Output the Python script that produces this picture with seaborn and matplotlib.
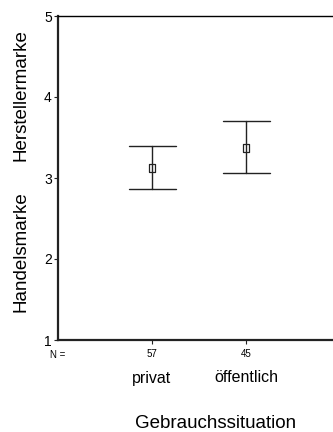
import numpy as np
import pandas as pd
import matplotlib
matplotlib.use("Agg")
import matplotlib.pyplot as plt
import matplotlib.transforms as mtransforms
import seaborn as sns

# Mean rating per usage situation with its 95% confidence interval
situations = ["privat", "öffentlich"]
n_counts = [57, 45]
means = [3.12, 3.37]
ci_low = [2.86, 3.06]
ci_high = [3.39, 3.70]
y_ticks = [1, 2, 3, 4, 5]

# Long table: lower bound, mean and upper bound per group
rows = []
for s, lo, m, hi in zip(situations, ci_low, means, ci_high):
    for v in (lo, m, hi):
        rows.append({"situation": s, "value": v})
df = pd.DataFrame(rows)

sns.set_style("white")
plt.rcParams["font.family"] = ["Liberation Sans", "DejaVu Sans"]

W, H = 333, 432
fig = plt.figure(figsize=(W / 100, H / 100), dpi=100)
ax = fig.add_axes([58 / W, 1 - 340 / H, 282 / W, 324 / H])

line_col = "#222222"
rect_marker = [(-0.7, -1), (0.7, -1), (0.7, 1), (-0.7, 1), (-0.7, -1)]

sns.pointplot(
    data=df, x="situation", y="value", order=situations,
    estimator=np.median,
    errorbar=lambda v: (v.min(), v.max()),
    capsize=0.5, color=line_col, linestyle="none",
    marker=rect_marker, markersize=5.5, markerfacecolor="white",
    markeredgecolor=line_col, markeredgewidth=0.9,
    err_kws={"linewidth": 1.0, "color": line_col},
    ax=ax,
)

ax.set_xlim(-1, 2)
ax.set_ylim(1, 5)
ax.set_yticks(y_ticks)
ax.set_yticklabels([str(t) for t in y_ticks], fontsize=10, color="black")
ax.set_xticks([0, 1])
ax.set_xticklabels([str(n) for n in n_counts], fontsize=7, color="black")
ax.tick_params(axis="both", direction="out", length=3, width=0.8,
               color=line_col, left=True, bottom=True)
ax.tick_params(axis="x", pad=3.5)
ax.tick_params(axis="y", pad=1.5)
ax.set_xlabel("")
ax.set_ylabel("")

for side in ("left", "bottom"):
    ax.spines[side].set_linewidth(1.6)
    ax.spines[side].set_color(line_col)
ax.spines["top"].set_linewidth(1.0)
ax.spines["top"].set_color("black")
ax.spines["right"].set_visible(False)

blend = mtransforms.blended_transform_factory(ax.transData, fig.transFigure)
ax.text(-1, 1 - 355 / H, "N =", transform=blend, ha="center", va="center",
        fontsize=7, color="black")
for i, s in enumerate(situations):
    ax.text(i, 1 - 378 / H, s, transform=blend, ha="center", va="center",
            fontsize=11.5, color="black")

fig.text(216 / W, 1 - 428 / H, "Gebrauchssituation", ha="center",
         va="baseline", fontsize=13.5, color="black")
fig.text(21 / W, 1 - 95 / H, "Herstellermarke", rotation=90, ha="center",
         va="center", fontsize=13.5, color="black")
fig.text(21 / W, 1 - 252 / H, "Handelsmarke", rotation=90, ha="center",
         va="center", fontsize=13.5, color="black")

fig.savefig("out.png", dpi=100, facecolor="white")
